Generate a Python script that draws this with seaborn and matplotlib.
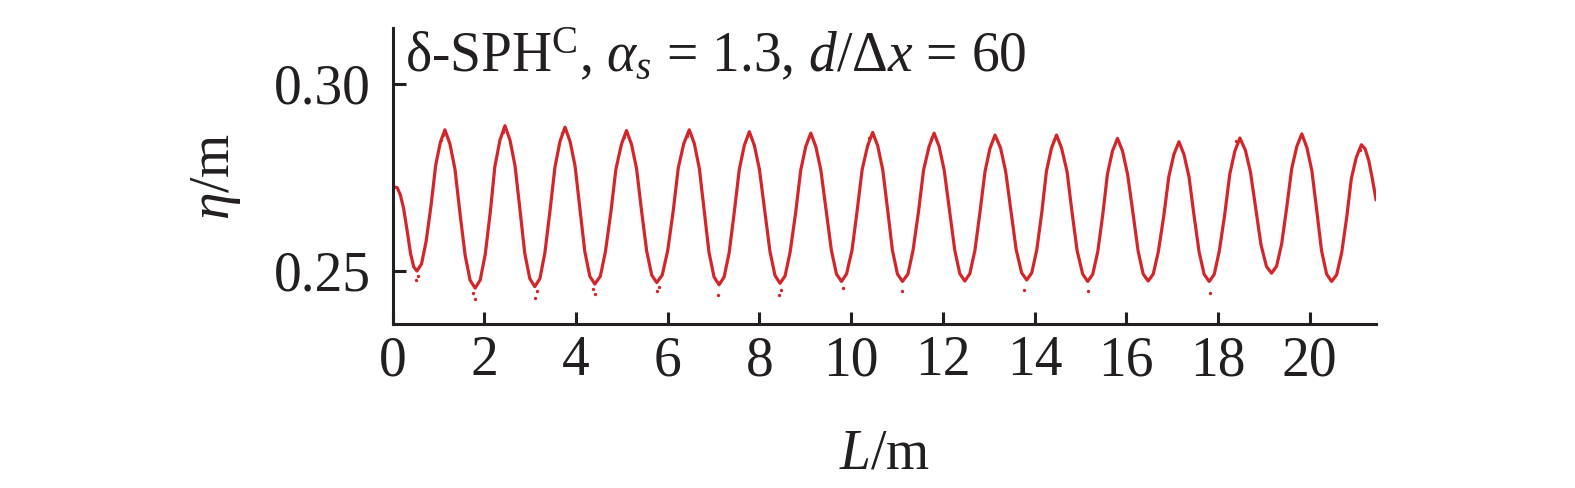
## ***************************************************************************
## * LIBRARIES                                                               *
## ***************************************************************************
import matplotlib
matplotlib.use('Agg')
import matplotlib.pyplot as plt
import matplotlib as mpl
import seaborn as sns
import pandas as pd

## ***************************************************************************
## * DATA                                             *
## ***************************************************************************
# free surface elevation along the tank, one line per half wave
L_m = [0.00, 0.10,
       0.17, 0.24, 0.32, 0.39, 0.46, 0.53,
       0.63, 0.73, 0.84, 0.94, 1.04, 1.14,
       1.25, 1.36, 1.47, 1.58, 1.69, 1.80,
       1.91, 2.02, 2.13, 2.23, 2.34, 2.45,
       2.56, 2.67, 2.78, 2.88, 2.99, 3.10,
       3.21, 3.32, 3.43, 3.54, 3.65, 3.76,
       3.87, 3.98, 4.09, 4.19, 4.30, 4.41,
       4.53, 4.64, 4.76, 4.87, 4.99, 5.10,
       5.21, 5.32, 5.43, 5.54, 5.65, 5.76,
       5.88, 6.00, 6.12, 6.23, 6.35, 6.47,
       6.58, 6.69, 6.80, 6.90, 7.01, 7.12,
       7.23, 7.34, 7.45, 7.56, 7.67, 7.78,
       7.89, 8.00, 8.12, 8.23, 8.34, 8.45,
       8.56, 8.67, 8.79, 8.90, 9.01, 9.12,
       9.23, 9.34, 9.46, 9.57, 9.68, 9.79,
       9.90, 10.02, 10.13, 10.24, 10.36, 10.47,
       10.58, 10.69, 10.80, 10.90, 11.01, 11.12,
       11.24, 11.35, 11.47, 11.58, 11.70, 11.81,
       11.92, 12.03, 12.15, 12.26, 12.37, 12.48,
       12.59, 12.70, 12.81, 12.92, 13.03, 13.14,
       13.26, 13.37, 13.49, 13.60, 13.72, 13.83,
       13.94, 14.05, 14.16, 14.26, 14.37, 14.48,
       14.59, 14.71, 14.82, 14.93, 15.05, 15.16,
       15.27, 15.38, 15.49, 15.59, 15.70, 15.81,
       15.92, 16.03, 16.15, 16.26, 16.37, 16.48,
       16.59, 16.70, 16.82, 16.93, 17.04, 17.15,
       17.26, 17.37, 17.48, 17.59, 17.70, 17.81,
       17.92, 18.03, 18.15, 18.26, 18.37, 18.48,
       18.60, 18.71, 18.83, 18.94, 19.06, 19.17,
       19.28, 19.39, 19.50, 19.61, 19.72, 19.83,
       19.94, 20.05, 20.16, 20.26, 20.37, 20.48,
       20.59, 20.70, 20.81, 20.91, 21.02, 21.13,
       21.21, 21.29, 21.37, 21.45]
eta_m = [0.2725, 0.2722,
         0.2702, 0.2666, 0.2604, 0.2546, 0.2510, 0.2499,
         0.2518, 0.2578, 0.2677, 0.2783, 0.2843, 0.2877,
         0.2839, 0.2771, 0.2652, 0.2542, 0.2474, 0.2453,
         0.2475, 0.2544, 0.2657, 0.2779, 0.2849, 0.2888,
         0.2849, 0.2780, 0.2660, 0.2548, 0.2479, 0.2457,
         0.2478, 0.2547, 0.2658, 0.2777, 0.2846, 0.2884,
         0.2846, 0.2779, 0.2661, 0.2552, 0.2485, 0.2464,
         0.2485, 0.2550, 0.2657, 0.2772, 0.2838, 0.2875,
         0.2838, 0.2773, 0.2659, 0.2553, 0.2488, 0.2468,
         0.2488, 0.2554, 0.2660, 0.2775, 0.2840, 0.2877,
         0.2840, 0.2773, 0.2657, 0.2549, 0.2483, 0.2462,
         0.2483, 0.2548, 0.2655, 0.2770, 0.2835, 0.2872,
         0.2835, 0.2771, 0.2657, 0.2551, 0.2487, 0.2466,
         0.2486, 0.2550, 0.2655, 0.2768, 0.2832, 0.2868,
         0.2832, 0.2769, 0.2658, 0.2554, 0.2491, 0.2471,
         0.2491, 0.2555, 0.2659, 0.2770, 0.2834, 0.2870,
         0.2834, 0.2770, 0.2659, 0.2555, 0.2491, 0.2471,
         0.2491, 0.2554, 0.2658, 0.2769, 0.2832, 0.2868,
         0.2832, 0.2769, 0.2658, 0.2555, 0.2492, 0.2472,
         0.2492, 0.2554, 0.2656, 0.2765, 0.2828, 0.2863,
         0.2828, 0.2766, 0.2657, 0.2556, 0.2494, 0.2475,
         0.2494, 0.2556, 0.2657, 0.2766, 0.2828, 0.2863,
         0.2828, 0.2765, 0.2655, 0.2553, 0.2491, 0.2471,
         0.2490, 0.2551, 0.2651, 0.2758, 0.2820, 0.2854,
         0.2820, 0.2758, 0.2652, 0.2552, 0.2491, 0.2472,
         0.2491, 0.2550, 0.2647, 0.2752, 0.2811, 0.2845,
         0.2811, 0.2751, 0.2647, 0.2550, 0.2490, 0.2471,
         0.2490, 0.2552, 0.2651, 0.2759, 0.2820, 0.2855,
         0.2822, 0.2764, 0.2663, 0.2569, 0.2511, 0.2493,
         0.2512, 0.2571, 0.2668, 0.2773, 0.2832, 0.2866,
         0.2830, 0.2767, 0.2657, 0.2554, 0.2491, 0.2471,
         0.2489, 0.2548, 0.2643, 0.2746, 0.2804, 0.2837,
         0.2826, 0.2795, 0.2745, 0.2689]

# loose particles scattered around the surface (mostly below troughs)
spray_L = [0.51, 0.56, 1.80, 1.76, 3.10, 3.14, 4.41, 4.36, 5.76, 5.80, 7.10,
           8.43, 8.47, 9.82, 11.11, 13.77, 15.16, 17.83, 1.05, 1.10, 2.40,
           3.70, 5.05, 6.42, 10.40, 11.75, 18.40, 21.10]
spray_eta = [0.2475, 0.2485, 0.2424, 0.2440, 0.2427, 0.2445, 0.2438, 0.2450,
             0.2446, 0.2455, 0.2435, 0.2435, 0.2448, 0.2454, 0.2446, 0.2449,
             0.2445, 0.2441, 0.2850, 0.2862, 0.2872, 0.2868, 0.2858, 0.2860,
             0.2855, 0.2852, 0.2848, 0.2822]

x_ticks = [0, 2, 4, 6, 8, 10, 12, 14, 16, 18, 20]
y_ticks = [0.25, 0.30]

dfLine = pd.DataFrame({'L': L_m, 'eta': eta_m})
dfSpray = pd.DataFrame({'L': spray_L, 'eta': spray_eta})

## ***************************************************************************
## * KEY PLOTING PARAMETERS                                                  *
## ***************************************************************************
sns.set_style('ticks')
mpl.rcParams['font.family'] = ['Liberation Serif', 'DejaVu Serif']
mpl.rcParams['mathtext.fontset'] = 'custom'
mpl.rcParams['mathtext.rm'] = 'Liberation Serif'
mpl.rcParams['mathtext.it'] = 'Liberation Serif:italic'
mpl.rcParams['axes.linewidth'] = 2.2
mpl.rcParams['xtick.direction'] = 'in'
mpl.rcParams['ytick.direction'] = 'in'

red = '#d3262b'
ink = '#231f20'
fs = 40

## ***************************************************************************
## * FIGURE                                                                  *
## ***************************************************************************
fig = plt.figure(figsize=(15.75, 4.88), dpi=100)
ax = fig.add_axes([0.2493, 0.336, 0.6244, 0.607])

sns.lineplot(data=dfLine, x='L', y='eta', color=red, linewidth=2.3,
             sort=False, estimator=None, ax=ax)
sns.scatterplot(data=dfSpray, x='L', y='eta', color=red, s=6,
                linewidth=0, ax=ax)

ax.set_xlim(0, 21.45)
ax.set_ylim(0.2357, 0.3150)
ax.set_xticks(x_ticks)
ax.set_yticks(y_ticks)
ax.set_yticklabels(['0.25', '0.30'])
ax.tick_params(axis='both', labelsize=fs, width=2.2, length=9, color=ink,
               labelcolor=ink)
ax.tick_params(axis='y', pad=16)
ax.tick_params(axis='x', pad=8)
sns.despine(ax=ax)
for s in ['left', 'bottom']:
    ax.spines[s].set_color(ink)

ax.set_xlabel('$L$/m', fontsize=fs, color=ink, labelpad=30)
ax.set_ylabel(r'$\eta$/m', fontsize=fs, color=ink, labelpad=22)

ax.text(0.013, 0.85, r'δ-SPH$^{\mathrm{C}}$, $\alpha_s$ = 1.3, $d$/Δ$x$ = 60',
        transform=ax.transAxes, fontsize=fs, color=ink,
        ha='left', va='baseline')

plt.savefig('out.png', dpi=100)
